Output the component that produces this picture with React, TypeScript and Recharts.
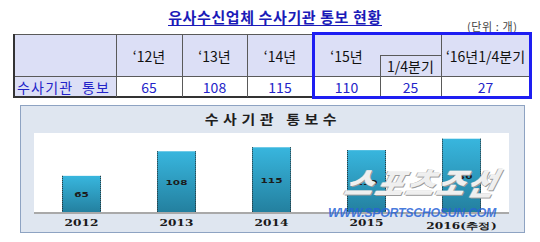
import React from "react";
import { BarChart, Bar, XAxis, YAxis, CartesianGrid, LabelList } from "recharts";

// table
const tableHeaders = ["\u201812년", "\u201813년", "\u201814년", "\u201815년", "1/4분기", "\u201816년1/4분기"];
const tableRowLabel = "수사기관 통보";
const tableValues = [65, 108, 115, 110, 25, 27];

// chart
const categories = ["2012", "2013", "2014", "2015", "2016(추정)"];
const notices = [65, 108, 115, 110, 130];

const chartData = categories.map((year, i) => ({ year, count: notices[i] }));

// table layout (pixels)
const colCenters = [149, 214.5, 280, 346.5, 410.5, 485.5];
const headerRowY = [56, 56, 56, 56, 66, 56];

const BLUE_TEXT = "#2323c8";
const LINE = "#5a5a5a";

function Txt({ cx, cy, children, color = "#111", size = 14, w = 110, style = {} }: any) {
  return (
    <div
      style={{
        position: "absolute",
        left: cx - w / 2,
        top: cy - 9,
        width: w,
        height: 18,
        lineHeight: "18px",
        textAlign: "center",
        fontSize: size,
        color,
        whiteSpace: "nowrap",
        ...style,
      }}
    >
      {children}
    </div>
  );
}

function Line({ x, y, w, h, color = LINE }: any) {
  return <div style={{ position: "absolute", left: x, top: y, width: w, height: h, background: color }} />;
}

function BarShape(props: any) {
  const { x, y, width, height } = props;
  if (!height || height <= 0) return null;
  return (
    <g>
      <rect x={x} y={y} width={width} height={height} fill="url(#barGrad)" />
      <line x1={x + 0.5} y1={y} x2={x + 0.5} y2={y + height} stroke="#2b2b2b" strokeDasharray="1 1" />
      <line x1={x + width - 0.5} y1={y} x2={x + width - 0.5} y2={y + height} stroke="#2b2b2b" strokeDasharray="1 1" />
    </g>
  );
}

function YearTick({ x, y, payload }: any) {
  const long = String(payload.value).length > 4;
  return (
    <text
      transform={`translate(${x},${y + (long ? 8 : 4.5)}) scale(1.35,1)`}
      textAnchor="middle"
      fontFamily="'DejaVu Serif', serif"
      fontWeight="bold"
      fontSize={9}
      fill="#1a1a1a"
    >
      {payload.value}
    </text>
  );
}

function ValueLabel({ x, y, width, height, value }: any) {
  const cx = x + width / 2;
  const cy = y + height / 2;
  return (
    <text
      transform={`translate(${cx},${cy + 3}) scale(1.4,1)`}
      textAnchor="middle"
      fontFamily="'DejaVu Sans', sans-serif"
      fontWeight="bold"
      fontSize={7.5}
      fill="#1c1c1c"
    >
      {value}
    </text>
  );
}

export default function App() {
  return (
    <div
      style={{
        position: "absolute",
        left: 0,
        top: 0,
        width: 540,
        height: 242,
        background: "#fff",
        fontFamily: "'Noto Sans CJK KR', sans-serif",
        overflow: "hidden",
      }}
    >
      {/* title */}
      <div style={{ position: "absolute", left: 0, width: 550, top: 4, textAlign: "center" }}>
        <span
          style={{
            display: "inline-block",
            fontSize: 15,
            fontWeight: "bold",
            color: "#1b1bb8",
            letterSpacing: 0.6,
            lineHeight: "17px",
            borderBottom: "1.5px solid #1b1bb8",
          }}
        >
          유사수신업체 수사기관 통보 현황
        </span>
      </div>
      <div
        style={{
          position: "absolute",
          left: 467,
          top: 19,
          fontSize: 11,
          color: "#444",
          lineHeight: "14px",
          letterSpacing: 0.6,
          whiteSpace: "pre",
        }}
      >
        (단위 : 개)
      </div>

      {/* table backgrounds */}
      <div style={{ position: "absolute", left: 14, top: 34, width: 516, height: 42, background: "#dcdff6" }} />
      <div style={{ position: "absolute", left: 14, top: 76, width: 102, height: 21, background: "#dcdff6" }} />

      {/* table lines */}
      <Line x={14} y={34} w={516} h={1} />
      <Line x={14} y={76} w={516} h={1} />
      <Line x={14} y={96} w={516} h={2} color="#333" />
      <Line x={380} y={55} w={61} h={1} />
      <Line x={13} y={34} w={2} h={64} color="#333" />
      {[116, 182, 247, 313, 441, 529].map((x) => (
        <Line key={x} x={x} y={34} w={1} h={63} />
      ))}
      <Line x={380} y={55} w={1} h={42} />

      {/* table texts */}
      {tableHeaders.map((h, i) => (
        <Txt key={h} cx={colCenters[i]} cy={headerRowY[i]}>
          {h}
        </Txt>
      ))}
      <div
        style={{
          position: "absolute",
          left: 17,
          top: 78,
          fontSize: 14,
          lineHeight: "18px",
          color: BLUE_TEXT,
          letterSpacing: 1.2,
          whiteSpace: "pre",
        }}
      >
        {tableRowLabel.replace(" ", "  ")}
      </div>
      {tableValues.map((v, i) => (
        <Txt key={i} cx={colCenters[i]} cy={87} color={BLUE_TEXT}>
          {v}
        </Txt>
      ))}

      {/* highlight box */}
      <div
        style={{
          position: "absolute",
          left: 312,
          top: 32,
          width: 220,
          height: 67,
          border: "3px solid #1e1ef2",
          boxSizing: "border-box",
        }}
      />

      {/* chart panel */}
      <div
        style={{
          position: "absolute",
          left: 20,
          top: 105,
          width: 505,
          height: 128,
          background: "#dfe6f0",
          border: "1px solid #8ea3c2",
          boxSizing: "border-box",
        }}
      />
      <div
        style={{
          position: "absolute",
          left: 0,
          width: 546,
          top: 110,
          textAlign: "center",
          fontSize: 13,
          fontWeight: "bold",
          color: "#1e1e1e",
          letterSpacing: 4,
          lineHeight: "18px",
          transform: "scaleX(1.15)",
        }}
      >
        수사기관 통보수
      </div>
      <div style={{ position: "absolute", left: 20, top: 105 }}>
        <BarChart
          width={505}
          height={128}
          data={chartData}
          margin={{ top: 28, right: 16, bottom: 0, left: 14 }}
        >
          <defs>
            <linearGradient id="barGrad" x1="0" y1="0" x2="0" y2="1">
              <stop offset="0%" stopColor="#38b6de" />
              <stop offset="100%" stopColor="#237f9e" />
            </linearGradient>
          </defs>
          <CartesianGrid fill="#fff" horizontal={false} vertical={false} />
          <XAxis
            dataKey="year"
            height={20}
            interval={0}
            tickLine={false}
            axisLine={{ stroke: "#a9a9a9", strokeWidth: 2 }}
            tick={<YearTick />}
          />
          <YAxis hide domain={[0, 140]} />
          <Bar dataKey="count" barSize={39} shape={<BarShape />} isAnimationActive={false}>
            <LabelList dataKey="count" content={<ValueLabel />} />
          </Bar>
        </BarChart>
      </div>

      {/* watermark */}
      <div
        style={{
          position: "absolute",
          left: 346,
          top: 165,
          fontSize: 31,
          fontWeight: 900,
          fontStyle: "italic",
          color: "rgba(255,255,255,0.85)",
          letterSpacing: 2,
          lineHeight: "34px",
          textShadow: "1px 1px 0 #9a9a9a, -1px 0 0 #b0b0b0",
          transform: "skewX(-15deg)",
        }}
      >
        스포츠조선
      </div>
      <div
        style={{
          position: "absolute",
          left: 328,
          top: 205,
          fontFamily: "'Liberation Sans', sans-serif",
          fontSize: 13,
          fontWeight: "bold",
          fontStyle: "italic",
          color: "rgba(40,100,215,0.85)",
          lineHeight: "15px",
          transform: "scaleX(0.95)",
          transformOrigin: "left",
          letterSpacing: -0.3,
        }}
      >
        WWW.SPORTSCHOSUN.COM
      </div>
    </div>
  );
}
